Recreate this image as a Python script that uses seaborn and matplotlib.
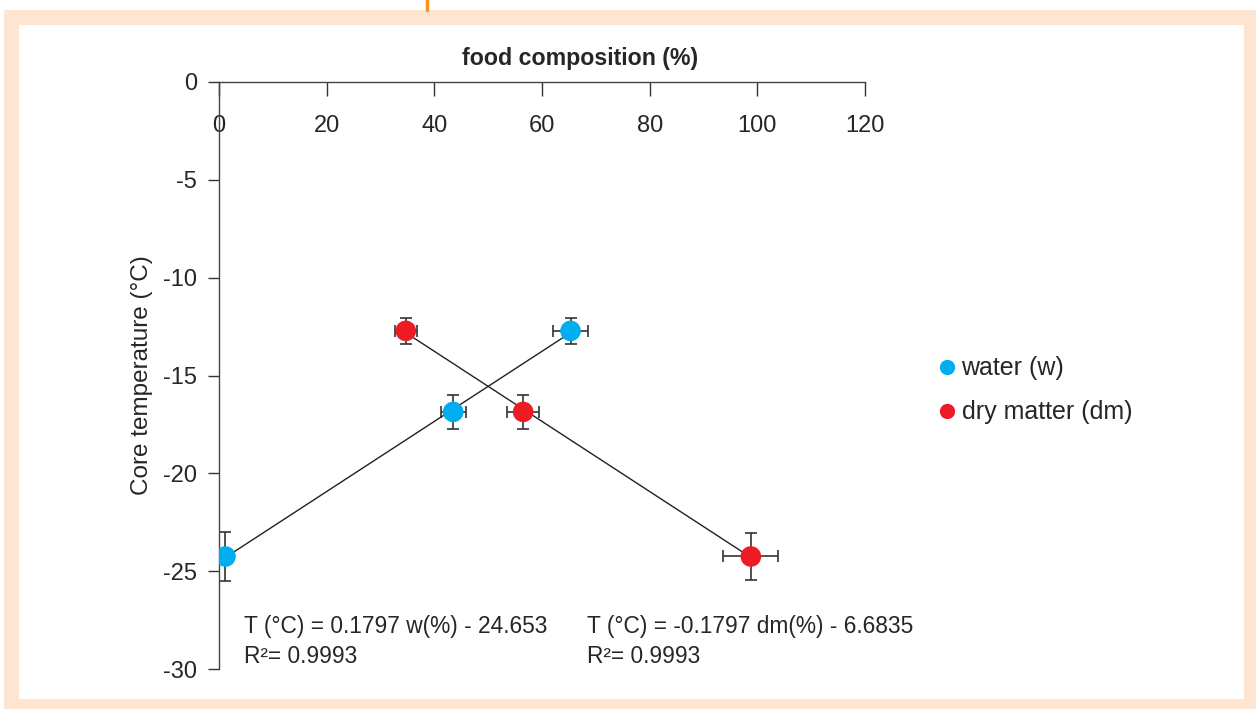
import numpy as np
import pandas as pd
import matplotlib.pyplot as plt
import seaborn as sns
from matplotlib.patches import Rectangle
from matplotlib.lines import Line2D

# values
water_pct = [1.2, 43.5, 65.3]
water_temp = [-24.25, -16.86, -12.72]
water_xerr = [0.0, 2.3, 3.3]
water_yerr = [1.25, 0.87, 0.65]

dm_pct = [34.7, 56.5, 98.8]
dm_temp = [-12.72, -16.86, -24.25]
dm_xerr = [2.0, 3.0, 5.1]
dm_yerr = [0.65, 0.87, 1.2]

series_names = ["water (w)", "dry matter (dm)"]
x_ticks = [0, 20, 40, 60, 80, 100, 120]
y_ticks = [0, -5, -10, -15, -20, -25, -30]
eq_water = ["T (°C) = 0.1797 w(%) - 24.653", "R²= 0.9993"]
eq_dm = ["T (°C) = -0.1797 dm(%) - 6.6835", "R²= 0.9993"]

colors = {"water (w)": "#00AEEF", "dry matter (dm)": "#ED1C24"}

data = pd.DataFrame({
    "pct": water_pct + dm_pct,
    "temp": water_temp + dm_temp,
    "series": [series_names[0]] * 3 + [series_names[1]] * 3,
})

sns.set_style("white")
plt.rcParams["font.family"] = ["Liberation Sans", "DejaVu Sans"]
plt.rcParams["axes.unicode_minus"] = False

fig = plt.figure(figsize=(12.56, 7.09), dpi=100)
fig.patch.set_facecolor("white")

# peach frame and white panel
W, H = 1256, 709
fig.patches.append(Rectangle((4 / W, 0), 1 - 4 / W, 1 - 10 / H, transform=fig.transFigure,
                             facecolor="#FDE5D2", edgecolor="none", zorder=-2))
fig.patches.append(Rectangle((19 / W, 1 - 699 / H), (1244 - 19) / W, (699 - 25) / H,
                             transform=fig.transFigure, facecolor="white",
                             edgecolor="none", zorder=-1))
fig.lines.append(Line2D([427 / W, 427 / W], [1, 1 - 10 / H], transform=fig.transFigure,
                        color="#F7941D", lw=2.5))

ax = fig.add_axes([219 / W, 1 - 669 / H, (865 - 219) / W, (669 - 82) / H])
ax.set_facecolor("none")

# fitted lines
sns.regplot(x=water_pct, y=water_temp, ax=ax, scatter=False, ci=None,
            line_kws={"color": "#231F20", "lw": 1})
sns.regplot(x=dm_pct, y=dm_temp, ax=ax, scatter=False, ci=None,
            line_kws={"color": "#231F20", "lw": 1})

# error bars
for xs, ys, xe, ye in [(water_pct, water_temp, water_xerr, water_yerr),
                       (dm_pct, dm_temp, dm_xerr, dm_yerr)]:
    ax.errorbar(xs, ys, xerr=xe, yerr=ye, fmt="none", ecolor="#333333",
                elinewidth=1.2, capsize=4, capthick=1.2, zorder=1)

sns.scatterplot(data=data, x="pct", y="temp", hue="series", palette=colors,
                s=220, edgecolor="none", ax=ax, zorder=3, legend=False)

ax.set_xlim(0, 120)
ax.set_ylim(-30, 0)
ax.set_xticks(x_ticks)
ax.set_yticks(y_ticks)
ax.xaxis.tick_top()
ax.tick_params(axis="x", direction="in", length=10, width=1, color="#333333",
               pad=-24, labelsize=17, labeltop=True, labelbottom=False)
ax.tick_params(axis="y", direction="out", length=8, width=1, color="#333333",
               pad=8, labelsize=17, left=True)
for t in ax.get_xticklabels():
    t.set_verticalalignment("top")

for side in ["right", "bottom"]:
    ax.spines[side].set_visible(False)
for side in ["left", "top"]:
    ax.spines[side].set_color("#444444")
    ax.spines[side].set_linewidth(1)

ax.set_xlabel("")
ax.set_ylabel("Core temperature (°C)", fontsize=17.5, labelpad=7)
ax.set_title("food composition (%)", x=0.559, fontsize=16.7, fontweight="bold", pad=12)

# regression equations
ax.text(0.039, 0.072, eq_water[0], transform=ax.transAxes, fontsize=16.4, va="center")
ax.text(0.039, 0.021, eq_water[1], transform=ax.transAxes, fontsize=16.4, va="center")
ax.text(0.570, 0.072, eq_dm[0], transform=ax.transAxes, fontsize=16.4, va="center")
ax.text(0.570, 0.021, eq_dm[1], transform=ax.transAxes, fontsize=16.4, va="center")

handles = [Line2D([], [], marker="o", ls="none", markersize=11,
                  markerfacecolor=colors[n], markeredgecolor="none") for n in series_names]
fig.legend(handles, series_names, loc="upper left", bbox_to_anchor=(909 / W, 1 - 334 / H),
           frameon=False, fontsize=18, handletextpad=0.0, labelspacing=0.8,
           handlelength=1.2)

plt.savefig("out.png", dpi=100)
